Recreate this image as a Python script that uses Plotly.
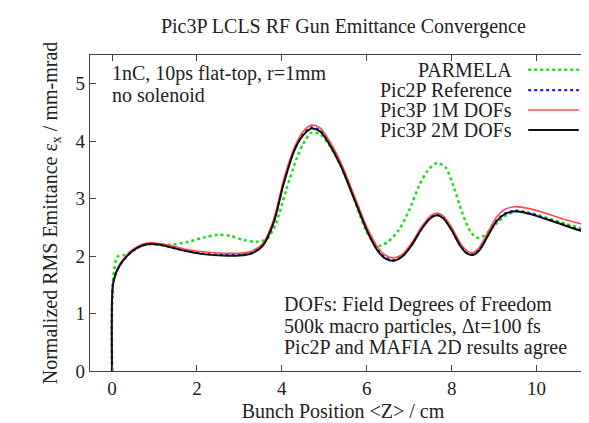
import plotly.graph_objects as go

# ---- data ----
x_parmela = [0, 0.02, 0.1, 0.15, 0.3, 0.5, 0.7, 0.9, 1.1, 1.4, 1.8, 2.2, 2.5, 2.8, 3.1, 3.4, 3.65, 3.85, 4.1, 4.35,
             4.5, 4.7, 4.9, 5.1, 5.4, 5.7, 5.95, 6.15, 6.3, 6.5, 6.75, 7.0, 7.25, 7.45, 7.65, 7.85, 8.05, 8.25, 8.45,
             8.6, 8.75, 8.9, 9.1, 9.3, 9.55, 9.9, 10.3, 10.7, 11.1, 11.4]
y_parmela = [0, 1.55, 1.95, 2.0, 2.02, 2.1, 2.19, 2.21, 2.2, 2.2, 2.25, 2.33, 2.37, 2.35, 2.28, 2.25, 2.3, 2.55,
             3.15, 3.7, 3.95, 4.15, 4.12, 3.95, 3.55, 3.0, 2.5, 2.25, 2.18, 2.25, 2.45, 2.8, 3.25, 3.5, 3.62, 3.55,
             3.2, 2.75, 2.42, 2.32, 2.35, 2.45, 2.6, 2.72, 2.78, 2.74, 2.65, 2.56, 2.47, 2.43]

x_pic = [0, 0.02, 0.1, 0.2, 0.35, 0.5, 0.7, 0.9, 1.1, 1.4, 1.8, 2.2, 2.6, 3.0, 3.3, 3.55, 3.8, 4.05, 4.3, 4.5,
         4.7, 4.9, 5.1, 5.4, 5.7, 6.0, 6.25, 6.45, 6.65, 6.85, 7.05, 7.3, 7.5, 7.65, 7.8, 8.0, 8.2, 8.35, 8.5,
         8.65, 8.85, 9.05, 9.25, 9.5, 9.8, 10.2, 10.6, 11.0, 11.4]
y_pic2p = [0, 1.5, 1.72, 1.86, 2.0, 2.1, 2.18, 2.21, 2.2, 2.15, 2.08, 2.04, 2.02, 2.02, 2.06, 2.19, 2.58, 3.3,
           3.86, 4.12, 4.24, 4.19, 3.99, 3.57, 3.02, 2.47, 2.12, 1.97, 1.93, 2.01, 2.19, 2.49, 2.67, 2.72, 2.67,
           2.46, 2.19, 2.06, 2.03, 2.11, 2.36, 2.61, 2.74, 2.79, 2.75, 2.66, 2.56, 2.46, 2.38]
y_pic3p_1m = [0, 1.5, 1.73, 1.88, 2.02, 2.12, 2.2, 2.23, 2.22, 2.18, 2.11, 2.07, 2.05, 2.05, 2.09, 2.22, 2.62,
              3.35, 3.9, 4.17, 4.28, 4.23, 4.03, 3.61, 3.06, 2.51, 2.16, 2.01, 1.97, 2.04, 2.22, 2.52, 2.7, 2.75,
              2.7, 2.5, 2.23, 2.1, 2.06, 2.15, 2.41, 2.67, 2.81, 2.86, 2.83, 2.75, 2.65, 2.57, 2.5]
y_pic3p_2m = [0, 1.5, 1.72, 1.86, 2.0, 2.1, 2.18, 2.21, 2.2, 2.15, 2.08, 2.03, 2.01, 2.01, 2.05, 2.18, 2.57,
              3.28, 3.85, 4.1, 4.22, 4.17, 3.97, 3.55, 3.0, 2.45, 2.1, 1.95, 1.92, 2.0, 2.18, 2.48, 2.66, 2.71,
              2.66, 2.45, 2.18, 2.05, 2.02, 2.1, 2.35, 2.6, 2.73, 2.78, 2.74, 2.65, 2.55, 2.45, 2.37]

x_ticks = [0, 2, 4, 6, 8, 10]
y_ticks = [0, 1, 2, 3, 4, 5]

series = [
    ("PARMELA", x_parmela, y_parmela, "#1fdc1f", 2.5, "dot"),
    ("Pic2P Reference", x_pic, y_pic2p, "#1a1aff", 2.2, "dot"),
    ("Pic3P 1M DOFs", x_pic, y_pic3p_1m, "#ff4a4a", 1.6, "solid"),
    ("Pic3P 2M DOFs", x_pic, y_pic3p_2m, "#111111", 2.0, "solid"),
]

FONT = "Liberation Serif"
TXT = "#222222"
FS = 20

fig = go.Figure()
for name, xs, ys, col, w, dash in series:
    fig.add_trace(go.Scatter(x=xs, y=ys, mode="lines", name=name,
                             line=dict(color=col, width=w, dash=dash, shape="spline", smoothing=0.8),
                             showlegend=False))

# gnuplot-style legend (text right-aligned, sample on the right)
leg_y = [0.953, 0.889, 0.826, 0.763]
annotations = []
shapes = []
for (name, xs, ys, col, w, dash), yy in zip(series, leg_y):
    annotations.append(dict(x=0.838, y=yy, xref="paper", yref="paper", text=name, showarrow=False,
                            xanchor="right", yanchor="middle", font=dict(family=FONT, size=FS, color=TXT)))
    shapes.append(dict(type="line", xref="paper", yref="paper", x0=0.866, x1=0.966, y0=yy, y1=yy,
                       line=dict(color=col, width=w, dash=dash)))

note_lines = [
    ("1nC, 10ps flat-top, r=1mm", 0.04, 0.943),
    ("no solenoid", 0.04, 0.873),
    ("DOFs: Field Degrees of Freedom", 0.379, 0.212),
    ("500k macro particles, \u0394t=100 fs", 0.379, 0.142),
    ("Pic2P and MAFIA 2D results agree", 0.379, 0.073),
]
for txt, xx, yy in note_lines:
    annotations.append(dict(x=xx, y=yy, xref="paper", yref="paper", text=txt, showarrow=False,
                            xanchor="left", yanchor="middle", font=dict(family=FONT, size=FS, color=TXT)))

axis_common = dict(showline=True, linecolor="#444444", linewidth=1.2, mirror="ticks", ticks="inside",
                   ticklen=6, tickcolor="#444444", showgrid=False, zeroline=False,
                   tickfont=dict(family=FONT, size=19, color=TXT))

fig.update_layout(
    width=589, height=423,
    margin=dict(l=82, r=1, t=47, b=60),
    paper_bgcolor="white", plot_bgcolor="white",
    title=dict(text="Pic3P LCLS RF Gun Emittance Convergence", x=0.5694, xanchor="center",
               y=0.957, yanchor="middle", font=dict(family=FONT, size=20, color=TXT)),
    xaxis=dict(range=[-0.52, 11.4], tickvals=x_ticks, ticktext=[str(v) for v in x_ticks],
               title=dict(text="Bunch Position &lt;Z&gt; / cm", standoff=6,
                          font=dict(family=FONT, size=FS, color=TXT)), **axis_common),
    yaxis=dict(range=[0, 5.5], tickvals=y_ticks, ticktext=[str(v) for v in y_ticks],
               title=dict(text="Normalized RMS Emittance \u03b5<sub>x</sub> / mm-mrad", standoff=12,
                          font=dict(family=FONT, size=FS, color=TXT)), **axis_common),
    annotations=annotations, shapes=shapes,
)

fig.write_html("out.html")
